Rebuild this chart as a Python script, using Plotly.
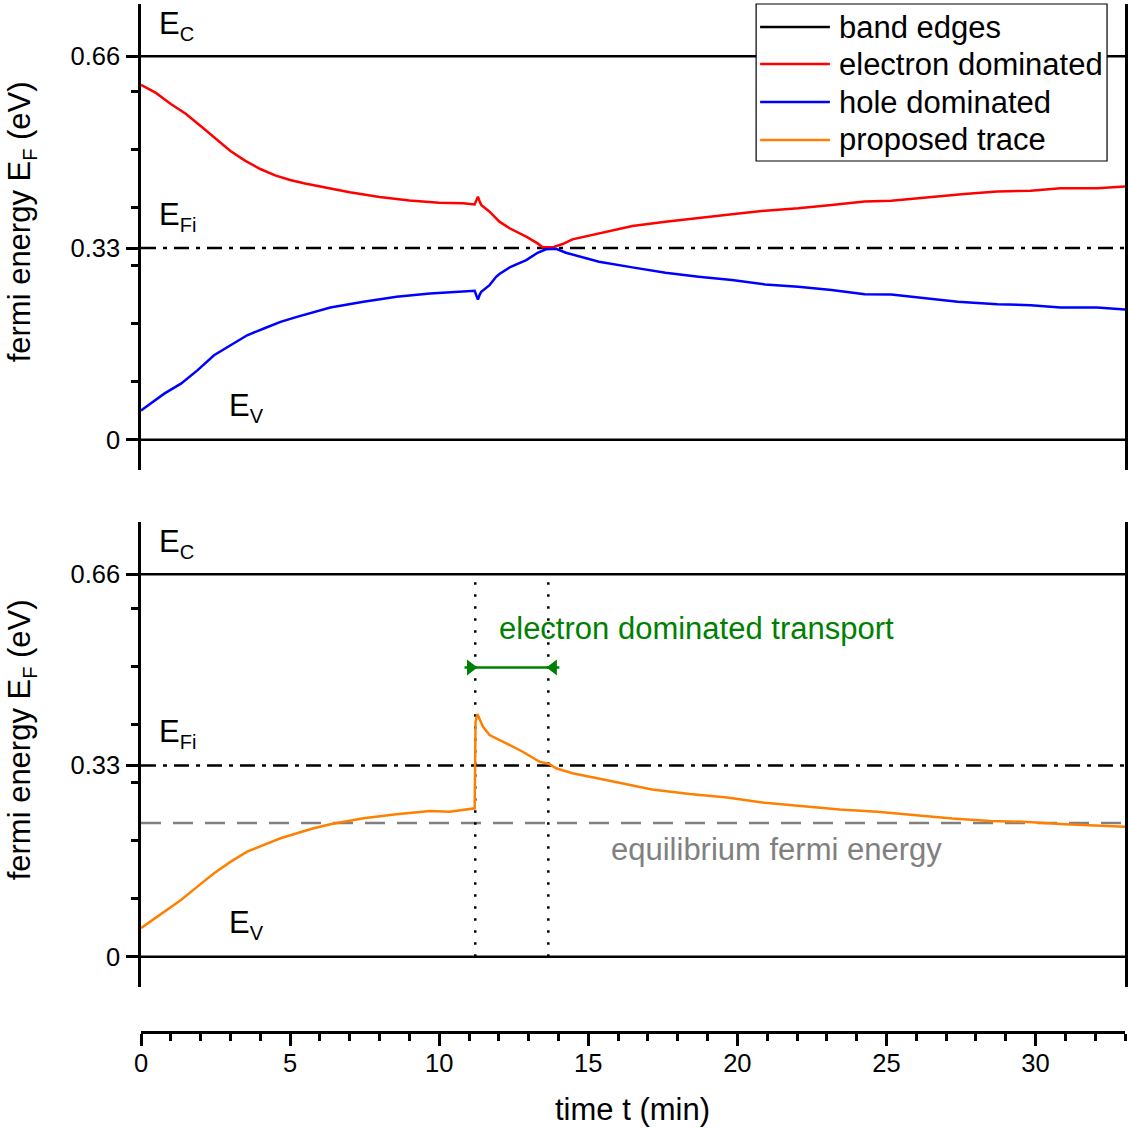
import plotly.graph_objects as go

# ---------------- data ----------------
t_red = [0, 0.5, 1.0, 1.5, 2.0, 2.5, 3.0, 3.5, 4.0, 4.5, 5.0, 5.5, 6.0, 7.0, 8.0, 9.0, 10.0,
         10.8, 11.19, 11.25, 11.30, 11.36, 11.41, 11.69, 11.91, 12.02, 12.36, 12.92, 13.30,
         13.47, 13.80, 14.14, 14.47, 15.36, 16.48, 17.59, 18.70, 19.82, 20.93, 22.04, 23.16,
         24.27, 25.16, 26.50, 27.61, 28.72, 29.84, 30.84, 32.06, 33.0]
e_red = [0.611, 0.597, 0.578, 0.561, 0.540, 0.518, 0.497, 0.480, 0.466, 0.455, 0.447, 0.441,
         0.436, 0.426, 0.418, 0.412, 0.408, 0.407, 0.405, 0.412, 0.4185, 0.410, 0.404, 0.3926,
         0.381, 0.3754, 0.364, 0.3495, 0.338, 0.3312, 0.3312, 0.3369, 0.345, 0.3554, 0.368,
         0.3754, 0.3812, 0.388, 0.3943, 0.3985, 0.4042, 0.4099, 0.4116, 0.4185, 0.4232, 0.4271,
         0.4288, 0.433, 0.433, 0.4357]

t_blue = [0, 0.78, 1.34, 1.89, 2.45, 3.01, 3.56, 4.12, 4.68, 5.23, 5.79, 6.35, 7.46, 8.57,
          9.69, 10.80, 11.19, 11.25, 11.30, 11.36, 11.41, 11.69, 11.91, 12.02, 12.40, 12.92,
          13.30, 13.58, 13.92, 14.25, 15.36, 16.48, 17.59, 18.70, 19.82, 20.93, 22.04, 23.16,
          24.27, 25.16, 26.50, 27.39, 28.72, 29.84, 30.84, 32.06, 33.0]
e_blue = [0.0505, 0.0794, 0.0966, 0.1195, 0.1454, 0.1627, 0.1799, 0.1915, 0.2029, 0.2115,
          0.2201, 0.2277, 0.2374, 0.246, 0.2519, 0.2546, 0.2563, 0.248, 0.2415, 0.250, 0.2546,
          0.2662, 0.2805, 0.2852, 0.2977, 0.3093, 0.3219, 0.3278, 0.3288, 0.3219, 0.3064,
          0.2967, 0.2874, 0.2805, 0.2748, 0.2674, 0.2632, 0.2576, 0.2506, 0.2501, 0.2432,
          0.2374, 0.2334, 0.2317, 0.2277, 0.2277, 0.2243]

t_orange = [0, 0.78, 1.34, 1.89, 2.45, 3.01, 3.56, 4.12, 4.68, 5.23, 5.79, 6.35, 7.46, 8.57,
            9.69, 10.35, 11.19, 11.22, 11.28, 11.47, 11.69, 12.25, 12.80, 13.36, 13.69, 13.92,
            14.47, 15.59, 16.70, 17.14, 18.40, 19.66, 20.92, 22.17, 23.43, 24.69, 25.95, 27.21,
            28.47, 29.73, 30.99, 32.63, 33.0]
e_orange = [0.0495, 0.078, 0.0982, 0.1211, 0.1442, 0.1642, 0.1815, 0.193, 0.2045, 0.2132,
            0.2218, 0.2287, 0.239, 0.2459, 0.2516, 0.2504, 0.2562, 0.405, 0.4187, 0.3969,
            0.3826, 0.3683, 0.3538, 0.3366, 0.3326, 0.3252, 0.3166, 0.305, 0.2935, 0.2888,
            0.2807, 0.275, 0.2657, 0.2599, 0.2541, 0.2501, 0.2443, 0.2385, 0.2345, 0.2327,
            0.2287, 0.2252, 0.2245]

E_V, E_FI, E_C = 0.0, 0.33, 0.66
E_EQ = 0.231
T_START, T_END = 0.0, 33.0
T_WINDOW = [11.21, 13.66]          # electron dominated transport window
ARROW_T = [10.85, 14.03]
ARROW_E = 0.499

x_major = [0, 5, 10, 15, 20, 25, 30]
x_minor = [i for i in range(0, 34) if i % 5 != 0]
y_major = [0, 0.33, 0.66]
y_major_text = ["0", "0.33", "0.66"]
y_minor = [0.1, 0.2, 0.3, 0.4, 0.5, 0.6]

legend_labels = ["band edges", "electron dominated", "hole dominated", "proposed trace"]
legend_colors = ["#000000", "#ff0000", "#0000ff", "#ff8000"]

# ---------------- geometry helpers ----------------
W, H = 1130, 1128
ML, MR, MT, MB = 141, 2, 4, 96
PW, PH = W - ML - MR, H - MT - MB


def px(xp):
    return (xp - ML) / PW


def py(yp):
    return (H - MB - yp) / PH


FONT = "Liberation Sans, Arial, sans-serif"
FS = 31
TFS = 25.5
fig = go.Figure()


def line(x, y, yaxis, color, width, dash="solid", name=None):
    fig.add_trace(go.Scatter(x=x, y=y, xaxis="x", yaxis=yaxis, mode="lines",
                             line=dict(color=color, width=width, dash=dash),
                             name=name, showlegend=False, hoverinfo="skip"))


DASHDOT = "15px,7px,4px,7px"
for ya in ["y", "y2"]:
    line([T_START, T_END], [E_V, E_V], ya, "black", 2.5, name="band edges")
    line([T_START, T_END], [E_C, E_C], ya, "black", 2.5, name="band edges")
    line([T_START, T_END], [E_FI, E_FI], ya, "black", 2.5, dash=DASHDOT)

line(t_red, e_red, "y", "#ff0000", 2.5, name="electron dominated")
line(t_blue, e_blue, "y", "#0000ff", 2.5, name="hole dominated")

# bottom panel
line([T_START, T_END], [E_EQ, E_EQ], "y2", "#808080", 2.5, dash="20px,12px")
for tw in T_WINDOW:
    line([tw, tw], [E_V, E_C], "y2", "black", 2.5, dash="2.5px,9.5px")
line(t_orange, e_orange, "y2", "#ff8000", 2.5, name="proposed trace")

# green arrow
line(ARROW_T, [ARROW_E, ARROW_E], "y2", "#008000", 2.5)
fig.add_trace(go.Scatter(x=[ARROW_T[0] + 0.2, ARROW_T[1] - 0.2], y=[ARROW_E, ARROW_E],
                         xaxis="x", yaxis="y2", mode="markers",
                         marker=dict(symbol=["triangle-right", "triangle-left"], size=14,
                                     color="#008000", line=dict(width=0)),
                         showlegend=False, hoverinfo="skip"))

yax = dict(range=[-0.052, 0.75], showline=True, linecolor="black", linewidth=2.5,
           mirror=True, ticks="outside", ticklen=12, tickwidth=2.5, tickcolor="black",
           tickvals=y_major, ticktext=y_major_text, showgrid=False, zeroline=False,
           ticklabelstandoff=1,
           minor=dict(tickvals=y_minor, ticks="outside", ticklen=7, tickwidth=2.5,
                      tickcolor="black", showgrid=False),
           tickfont=dict(family=FONT, size=TFS, color="black"), anchor="x")

fig.update_layout(
    width=W, height=H,
    margin=dict(l=ML, r=MR, t=MT, b=MB, pad=0),
    paper_bgcolor="white", plot_bgcolor="white",
    showlegend=False,
    font=dict(family=FONT, size=FS, color="black"),
    xaxis=dict(range=[T_START, T_END], domain=[0, 1], anchor="free", position=0,
               showline=True, linecolor="black", linewidth=2.5, ticks="outside",
               ticklen=12, tickwidth=2.5, tickcolor="black", tickvals=x_major,
               showgrid=False, zeroline=False, ticklabelstandoff=-4,
               minor=dict(tickvals=x_minor, ticks="outside", ticklen=7, tickwidth=2.5,
                          tickcolor="black", showgrid=False),
               tickfont=dict(family=FONT, size=TFS, color="black")),
    yaxis=dict(domain=[py(470), py(4)], **yax),
    yaxis2=dict(domain=[py(987), py(522)], **yax),
)

ann = []


def label(text, x, y, yref, color="black", size=FS, xanchor="left", xref="x"):
    ann.append(dict(text=text, x=x, y=y, xref=xref, yref=yref, showarrow=False,
                    xanchor=xanchor, yanchor="middle",
                    font=dict(family=FONT, size=size, color=color)))


SUB = "<sub><span style='font-size:20px'>%s</span></sub>"
for ya in ["y", "y2"]:
    label("E" + SUB % "C", 0.55, 0.713, ya)
    label("E" + SUB % "Fi", 0.55, 0.385, ya)
    label("E" + SUB % "V", 2.9, 0.055, ya)

label("electron dominated transport", 18.63, 0.567, "y2", color="#008000", xanchor="center")
label("equilibrium fermi energy", 21.3, 0.186, "y2", color="#808080", xanchor="center")

# axis titles
for yc in [222, 740]:
    ann.append(dict(text="fermi energy E" + SUB % "F" + " (eV)", x=px(21), y=py(yc),
                    xref="paper", yref="paper", showarrow=False, textangle=-90,
                    xanchor="center", yanchor="middle",
                    font=dict(family=FONT, size=FS, color="black")))
ann.append(dict(text="time t (min)", x=px(634), y=py(1109), xref="paper", yref="paper",
                showarrow=False, xanchor="center", yanchor="middle",
                font=dict(family=FONT, size=FS, color="black")))

# legend box (drawn manually to match the reference layout)
shapes = [dict(type="rect", xref="paper", yref="paper", x0=px(758), x1=px(1110),
               y0=py(161), y1=py(4), fillcolor="white", line=dict(color="black", width=1.2),
               layer="above")]
rows = [27, 64, 102, 140]
for lab, col, r in zip(legend_labels, legend_colors, rows):
    shapes.append(dict(type="line", xref="paper", yref="paper", x0=px(762), x1=px(832),
                       y0=py(r), y1=py(r), line=dict(color=col, width=2.5), layer="above"))
    ann.append(dict(text=lab, x=px(839), y=py(r), xref="paper", yref="paper",
                    showarrow=False, xanchor="left", yanchor="middle",
                    font=dict(family=FONT, size=FS, color="black")))

fig.update_layout(annotations=ann, shapes=shapes)
fig.write_html("out.html")
